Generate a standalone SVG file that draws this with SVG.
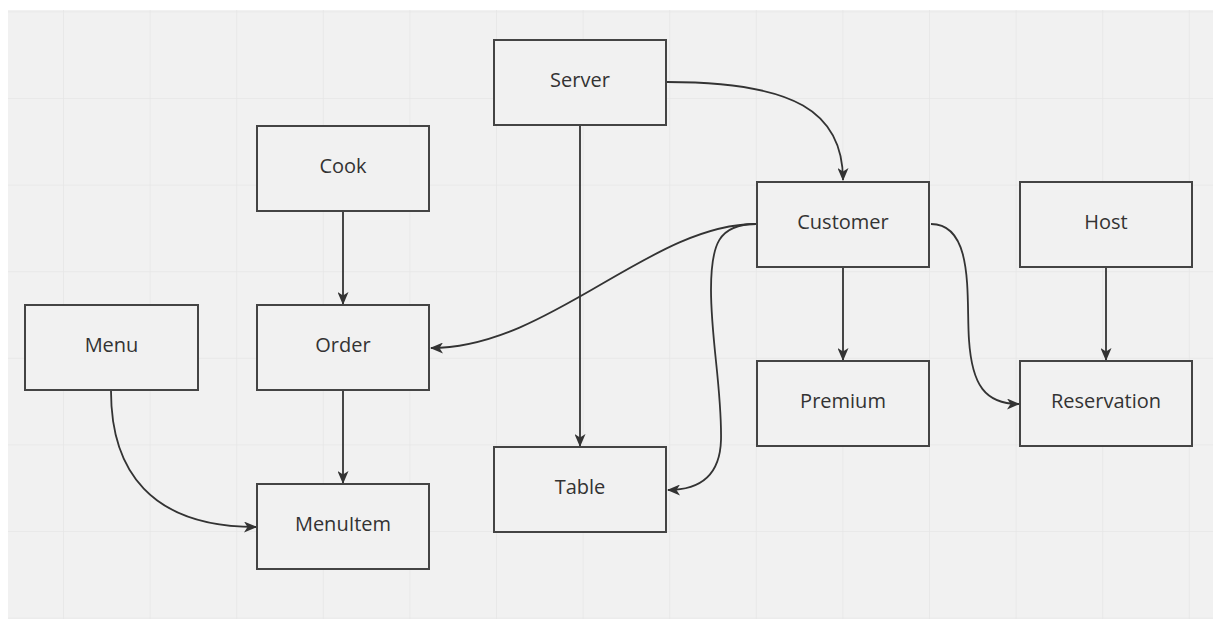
<svg xmlns="http://www.w3.org/2000/svg" width="1213" height="619" viewBox="0 0 1213 619">
  <defs>
    <pattern id="grid" x="63" y="11.4" width="86.6" height="86.6" patternUnits="userSpaceOnUse">
      <path d="M0,0 V86.6 M0,0 H86.6" fill="none" stroke="#e6e6e6" stroke-width="1.6"/>
    </pattern>
    <marker id="arrow" viewBox="0 0 13 11" refX="12" refY="5.5" markerWidth="13" markerHeight="11" markerUnits="userSpaceOnUse" orient="auto">
      <path d="M0,0 L13,5.5 L0,11 L3.5,5.5 Z" fill="#333"/>
    </marker>
    <style>
      .node rect { fill: #f1f1f1; stroke: #444; stroke-width: 2; }
      .node text { font-family: "Open Sans", "Noto Sans", sans-serif; font-size: 20px; fill: #333; text-anchor: middle; }
      #edges path { fill: none; stroke: #333; stroke-width: 1.8; marker-end: url(#arrow); }
    </style>
  </defs>

  <!-- canvas -->
  <rect width="1213" height="619" fill="#ffffff"/>
  <rect x="8" y="10" width="1205" height="609" fill="#f1f1f1"/>
  <rect x="8" y="10" width="1205" height="609" fill="url(#grid)"/>

  <!-- connectors -->
  <g id="edges">
    <path d="M667,82 C795,82 843,112 843,180"/>
    <path d="M580,125 V446"/>
    <path d="M343,212 V304"/>
    <path d="M343,391 V483"/>
    <path d="M111,391 C111,470 150,527 256,527"/>
    <path d="M756,224 C650,224 550,348 431,348"/>
    <path d="M756,224 C718,224 711,245 711,290 C711,340 722,390 721,440 C720,475 700,490 668,490"/>
    <path d="M843,267 V360"/>
    <path d="M931,224 C975,224 966,300 969,340 C972,385 985,404 1019,404"/>
    <path d="M1106,267 V360"/>
  </g>

  <!-- nodes -->
  <g id="server" class="node"><rect x="494" y="40" width="172" height="85"/><text x="580" y="86.5">Server</text></g>
  <g id="cook" class="node"><rect x="257" y="126" width="172" height="85"/><text x="343" y="173">Cook</text></g>
  <g id="customer" class="node"><rect x="757" y="182" width="172" height="85"/><text x="843" y="229">Customer</text></g>
  <g id="host" class="node"><rect x="1020" y="182" width="172" height="85"/><text x="1106" y="229">Host</text></g>
  <g id="menu" class="node"><rect x="25" y="305" width="173" height="85"/><text x="111.5" y="352">Menu</text></g>
  <g id="order" class="node"><rect x="257" y="305" width="172" height="85"/><text x="343" y="352">Order</text></g>
  <g id="premium" class="node"><rect x="757" y="361" width="172" height="85"/><text x="843" y="408">Premium</text></g>
  <g id="reservation" class="node"><rect x="1020" y="361" width="172" height="85"/><text x="1106" y="408">Reservation</text></g>
  <g id="table" class="node"><rect x="494" y="447" width="172" height="85"/><text x="580" y="494">Table</text></g>
  <g id="menuitem" class="node"><rect x="257" y="484" width="172" height="85"/><text x="343" y="531">MenuItem</text></g>
</svg>
